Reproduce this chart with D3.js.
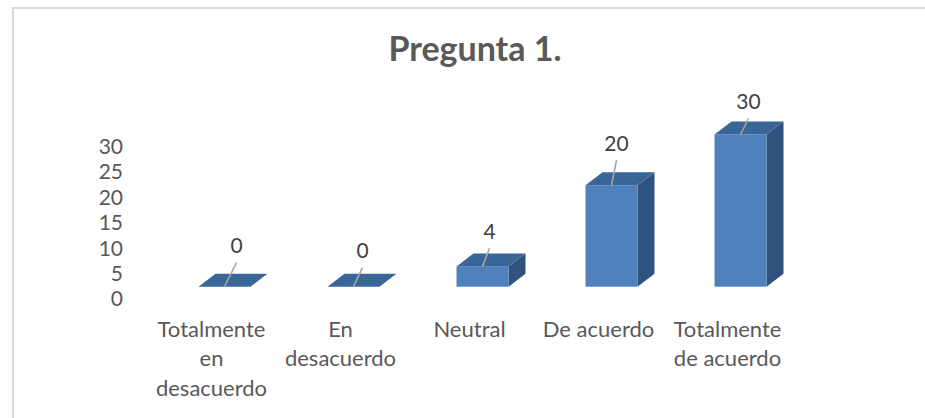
<!DOCTYPE html>
<html>
<head>
<meta charset="utf-8">
<script src="https://cdn.jsdelivr.net/npm/d3@7/dist/d3.min.js"></script>
<style>
  body { margin: 0; background: #fff; }
  text { font-family: Lato, "Open Sans", sans-serif; }
</style>
</head>
<body>
<svg id="chart" width="925" height="418"></svg>
<script>
// data
var categories = [
  ["Totalmente", "en", "desacuerdo"],
  ["En", "desacuerdo"],
  ["Neutral"],
  ["De acuerdo"],
  ["Totalmente", "de acuerdo"]
];
var values = [0, 0, 4, 20, 30];
var yTicks = [0, 5, 10, 15, 20, 25, 30];
var chartTitle = "Pregunta 1.";

// data label nudges relative to the front-top center of each bar
var labelNudge = [[12, -41], [9, -36], [7, -35], [5, -42], [8, -33]];

var svg = d3.select("#chart");
var depthX = 17, depthY = -13, barW = 52;

// frame (only left and top edges visible)
svg.append("path")
  .attr("d", "M13,420 L13,8 L930,8")
  .attr("fill", "none")
  .attr("stroke", "#d9d9d9")
  .attr("stroke-width", 2);

svg.append("text")
  .attr("x", 475).attr("y", 61)
  .attr("text-anchor", "middle")
  .attr("font-size", 34).attr("font-weight", "bold")
  .attr("fill", "#595959")
  .text(chartTitle);

var x = d3.scaleBand().domain(d3.range(values.length)).range([160, 805]);
var y = d3.scaleLinear().domain([0, 30]).range([286.7, 134.5]);

// y axis sits on back wall: shifted down in the picture
var yAxis = svg.append("g")
  .attr("transform", "translate(123,12.3)")
  .call(d3.axisLeft(y).tickValues(yTicks).tickSize(0).tickPadding(0));
yAxis.select(".domain").remove();
yAxis.selectAll("text")
  .attr("font-size", 21)
  .attr("fill", "#595959")
  .attr("font-family", "Lato, 'Open Sans', sans-serif");

var bars = svg.append("g").selectAll("g").data(values).join("g");

function cx(i) { return x(i) + x.bandwidth() / 2; }

bars.each(function (v, i) {
  var g = d3.select(this);
  var x0 = cx(i) - barW / 2, x1 = cx(i) + barW / 2;
  var yt = y(v), yb = y(0);
  // side
  g.append("path")
    .attr("d", "M" + x1 + "," + yt + "L" + (x1 + depthX) + "," + (yt + depthY) +
      "L" + (x1 + depthX) + "," + (yb + depthY) + "L" + x1 + "," + yb + "Z")
    .attr("fill", "#30527f");
  // front
  g.append("rect")
    .attr("x", x0).attr("y", yt)
    .attr("width", barW).attr("height", yb - yt)
    .attr("fill", "#4f81bd");
  // top
  g.append("path")
    .attr("d", "M" + x0 + "," + yt + "L" + (x0 + depthX) + "," + (yt + depthY) +
      "L" + (x1 + depthX) + "," + (yt + depthY) + "L" + x1 + "," + yt + "Z")
    .attr("fill", "#3a6597");
});

// data labels with leader lines
bars.each(function (v, i) {
  var g = d3.select(this);
  var lx = cx(i) + labelNudge[i][0], ly = y(v) + labelNudge[i][1];
  g.append("line")
    .attr("x1", cx(i)).attr("y1", y(v))
    .attr("x2", lx).attr("y2", ly + 17)
    .attr("stroke", "#a6a6a6").attr("stroke-width", 1.6);
  g.append("text")
    .attr("x", lx).attr("y", ly + 7.5)
    .attr("text-anchor", "middle")
    .attr("font-size", 21).attr("fill", "#404040")
    .text(v);
});

// category labels
var cat = svg.append("g").selectAll("text").data(categories).join("text")
  .attr("text-anchor", "middle")
  .attr("font-size", 22)
  .attr("fill", "#595959");
cat.each(function (lines, i) {
  d3.select(this).selectAll("tspan").data(lines).join("tspan")
    .attr("x", cx(i) - 13)
    .attr("y", function (d, j) { return 336.5 + j * 29.5; })
    .text(function (d) { return d; });
});
</script>
</body>
</html>
